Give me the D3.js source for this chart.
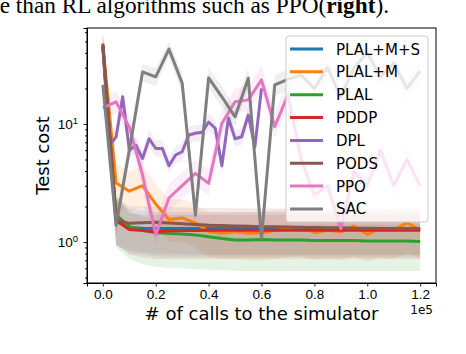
<!DOCTYPE html>
<html>
<head>
<meta charset="utf-8">
<script src="https://cdn.jsdelivr.net/npm/d3@7"></script>
<style>
  body { margin: 0; background: #fff; }
  svg { display: block; font-family: "DejaVu Sans", sans-serif; }
</style>
</head>
<body>
<div class="vis-chart"></div>
<script>
// x grids (number of simulator calls)
const xs5 = [0, 5000, 10000, 15000, 20000, 25000, 30000, 35000, 40000, 45000, 50000, 55000, 60000,
  65000, 70000, 75000, 80000, 85000, 90000, 95000, 100000, 105000, 110000, 115000, 120000];
const xs25 = [0, 2500, 5000, 7500, 10000, 12500, 15000, 17500, 20000, 22500, 25000, 27500, 30000,
  32500, 35000, 37500, 40000, 42500, 45000, 47500, 50000, 52500, 55000, 57500, 60000];

const names = ["PLAL+M+S", "PLAL+M", "PLAL", "PDDP", "DPL", "PODS", "PPO", "SAC"];
const colors = ["#1f77b4", "#ff7f0e", "#2ca02c", "#d62728", "#9467bd", "#8c564b", "#e377c2", "#7f7f7f"];

// mean test cost
const plalMS = [46, 1.5, 1.33, 1.31, 1.3, 1.3, 1.3, 1.3, 1.3, 1.3, 1.3, 1.3, 1.3, 1.3, 1.3, 1.3, 1.3, 1.3, 1.3, 1.3, 1.3, 1.3, 1.3, 1.3, 1.3];
const plalM = [47, 3.16, 2.7, 3.0, 2.1, 1.55, 1.6, 1.45, 1.22, 1.19, 1.22, 1.19, 1.2, 1.25, 1.31, 1.35, 1.2, 1.26, 1.22, 1.37, 1.16, 1.31, 1.26, 1.46, 1.26];
const plal = [45, 1.7, 1.35, 1.26, 1.2, 1.18, 1.17, 1.15, 1.11, 1.07, 1.04, 1.04, 1.05, 1.04, 1.04, 1.04, 1.03, 1.03, 1.03, 1.03, 1.02, 1.02, 1.02, 1.02, 1.01];
const pddp = [46, 1.52, 1.28, 1.25, 1.22, 1.24, 1.25, 1.25, 1.26, 1.26, 1.26, 1.26, 1.26, 1.26, 1.26, 1.26, 1.26, 1.26, 1.26, 1.26, 1.26, 1.26, 1.26, 1.26, 1.26];
const dpl = [45, 6.6, 7.77, 17.0, 6.0, 6.6, 5.1, 7.5, 6.2, 6.2, 4.43, 5.46, 5.82, 8.07, 8.34, 8.5, 10.4, 9.2, 4.43, 11.2, 7.5, 7.8, 11.9, 6.4, 20.0];
const pods = [48, 1.54, 1.44, 1.46, 1.47, 1.45, 1.43, 1.41, 1.39, 1.38, 1.37, 1.36, 1.35, 1.35, 1.34, 1.33, 1.33, 1.32, 1.32, 1.31, 1.31, 1.3, 1.3, 1.3, 1.3];
const ppo = [13.7, 15.4, 9.4, 3.7, 1.15, 2.36, 3.0, 3.82, 3.14, 10.1, 15.4, 16.0, 23.6, 9.5, 17.6, 5, 2.5, 3, 1.3, 4, 3, 6, 3, 5, 3];
const sac = [21.4, 1.39, 6.0, 27.6, 25.1, 43, 22.2, 1.69, 24.6, 17.0, 11.5, 24.4, 1.07, 21.4, 23.9, 26, 20, 30, 17, 30, 40, 25, 33, 20, 28];

// shaded spread (upper / lower)
const plalMSHi = [58, 2.3, 1.9, 1.85, 1.8, 1.8, 1.8, 1.8, 1.8, 1.8, 1.8, 1.8, 1.8, 1.8, 1.8, 1.8, 1.8, 1.8, 1.8, 1.8, 1.8, 1.8, 1.8, 1.8, 1.8];
const plalMSLo = [36, 0.95, 0.8, 0.78, 0.76, 0.75, 0.75, 0.75, 0.75, 0.75, 0.75, 0.75, 0.75, 0.75, 0.75, 0.75, 0.75, 0.75, 0.75, 0.75, 0.75, 0.75, 0.75, 0.75, 0.75];
const plalMHi = [58, 4.6, 4.0, 4.4, 3.1, 2.3, 2.3, 2.1, 1.8, 1.8, 1.8, 1.8, 1.8, 1.85, 1.9, 1.95, 1.8, 1.85, 1.8, 1.95, 1.75, 1.9, 1.85, 2.0, 1.85];
const plalMLo = [37, 2.1, 1.8, 2.0, 1.4, 1.0, 1.0, 0.9, 0.75, 0.72, 0.72, 0.7, 0.7, 0.72, 0.75, 0.76, 0.7, 0.72, 0.7, 0.76, 0.68, 0.74, 0.72, 0.8, 0.72];
const plalHi = [56, 2.5, 1.8, 1.65, 1.55, 1.5, 1.5, 1.48, 1.45, 1.42, 1.4, 1.4, 1.4, 1.4, 1.4, 1.4, 1.4, 1.4, 1.4, 1.4, 1.4, 1.4, 1.4, 1.4, 1.4];
const plalLo = [35, 0.9, 0.72, 0.65, 0.62, 0.6, 0.6, 0.59, 0.58, 0.58, 0.57, 0.57, 0.57, 0.57, 0.57, 0.57, 0.57, 0.57, 0.57, 0.57, 0.57, 0.57, 0.57, 0.57, 0.57];
const pddpHi = [57, 2.3, 1.75, 1.7, 1.7, 1.7, 1.7, 1.7, 1.7, 1.7, 1.7, 1.7, 1.7, 1.7, 1.7, 1.7, 1.7, 1.7, 1.7, 1.7, 1.7, 1.7, 1.7, 1.7, 1.7];
const pddpLo = [36, 0.95, 0.78, 0.74, 0.72, 0.72, 0.72, 0.72, 0.72, 0.72, 0.72, 0.72, 0.72, 0.72, 0.72, 0.72, 0.72, 0.72, 0.72, 0.72, 0.72, 0.72, 0.72, 0.72, 0.72];
const dplHi = [55, 7.8, 9.2, 20, 7.1, 7.8, 6.0, 8.9, 7.3, 7.3, 5.2, 6.4, 6.9, 9.5, 9.8, 10, 12.3, 10.9, 5.2, 13.2, 8.9, 9.2, 14, 7.6, 23.6];
const dplLo = [37, 5.6, 6.6, 14.4, 5.1, 5.6, 4.3, 6.4, 5.3, 5.3, 3.8, 4.6, 4.9, 6.9, 7.1, 7.2, 8.8, 7.8, 3.8, 9.5, 6.4, 6.6, 10.1, 5.4, 17];
const podsHi = [60, 2.4, 2.0, 2.0, 2.0, 1.98, 1.96, 1.95, 1.94, 1.94, 1.93, 1.93, 1.92, 1.92, 1.92, 1.92, 1.92, 1.92, 1.92, 1.92, 1.92, 1.92, 1.92, 1.92, 1.92];
const podsLo = [38, 0.95, 0.85, 0.82, 0.8, 0.8, 0.79, 0.79, 0.78, 0.78, 0.78, 0.78, 0.78, 0.78, 0.78, 0.78, 0.78, 0.78, 0.78, 0.78, 0.78, 0.78, 0.78, 0.78, 0.78];
const ppoHi = [17, 19, 12, 4.8, 1.5, 3.1, 3.9, 5, 4.1, 13, 20, 21, 31, 12.5, 23, 6.5, 3.3, 3.9, 1.7, 5.2, 3.9, 7.8, 3.9, 6.5, 3.9];
const ppoLo = [11, 12.3, 7.5, 2.9, 0.9, 1.85, 2.35, 3, 2.5, 8, 12.3, 12.8, 18.8, 7.6, 14, 4, 2, 2.4, 1.05, 3.2, 2.4, 4.8, 2.4, 4, 2.4];
const sacHi = [25, 1.7, 7.5, 32, 30, 50, 27, 2.1, 30, 21, 14, 30, 1.3, 26, 29, 31, 24, 36, 21, 36, 48, 30, 40, 24, 34];
const sacLo = [18, 1.1, 4.8, 23, 21, 37, 18, 1.35, 20, 14, 9.5, 20, 0.85, 17, 19.5, 21, 16, 24, 14, 24, 33, 20, 27, 16, 23];

const yMajor = [1, 10];
const yMinor = [0.5, 0.6, 0.7, 0.8, 0.9, 2, 3, 4, 5, 6, 7, 8, 9, 20, 30, 40, 50, 60];
const xTicks = [0, 20000, 40000, 60000, 80000, 100000, 120000];

const series = [
  {x: xs5, y: plalMS, hi: plalMSHi, lo: plalMSLo},
  {x: xs5, y: plalM, hi: plalMHi, lo: plalMLo},
  {x: xs5, y: plal, hi: plalHi, lo: plalLo},
  {x: xs5, y: pddp, hi: pddpHi, lo: pddpLo},
  {x: xs25, y: dpl, hi: dplHi, lo: dplLo},
  {x: xs5, y: pods, hi: podsHi, lo: podsLo},
  {x: xs5, y: ppo, hi: ppoHi, lo: ppoLo},
  {x: xs5, y: sac, hi: sacHi, lo: sacLo}
];

const W = 466, H = 354;
const margin = {top: 28, right: 30, bottom: 71, left: 87};

const svg = d3.select('.vis-chart').append('svg')
  .attr('width', W).attr('height', H);

// caption fragment above the figure (cut at the top, as in the page scan)
const cap = svg.append('text')
  .attr('x', 389).attr('y', 12.5)
  .attr('text-anchor', 'end')
  .style('font-family', '"Liberation Serif", serif')
  .style('font-size', '23.3px')
  .attr('fill', '#000');
cap.append('tspan').text('se than RL algorithms such as PPO(');
cap.append('tspan').style('font-weight', 'bold').text('right');
cap.append('tspan').text(').');

const x = d3.scaleLinear().domain([-6000, 126000]).range([margin.left, W - margin.right]);
const y = d3.scaleLog().domain([0.45, 65]).range([H - margin.bottom, margin.top]);

const plot = svg.append('g');
plot.append('clipPath').attr('id', 'clip')
  .append('rect')
  .attr('x', margin.left).attr('y', margin.top)
  .attr('width', W - margin.right - margin.left)
  .attr('height', H - margin.bottom - margin.top);
const inner = plot.append('g').attr('clip-path', 'url(#clip)');

// bands first, then lines
series.forEach((s, i) => {
  const area = d3.area()
    .x((d, j) => x(s.x[j]))
    .y0((d, j) => y(s.lo[j]))
    .y1((d, j) => y(s.hi[j]));
  inner.append('path')
    .attr('d', area(s.y))
    .attr('fill', colors[i])
    .attr('fill-opacity', 0.12);
});
series.forEach((s, i) => {
  const line = d3.line()
    .x((d, j) => x(s.x[j]))
    .y(d => y(d));
  inner.append('path')
    .attr('d', line(s.y))
    .attr('fill', 'none')
    .attr('stroke', colors[i])
    .attr('stroke-width', 3)
    .attr('stroke-linejoin', 'round');
});

// axes
const xAxis = svg.append('g')
  .attr('transform', 'translate(0,' + (H - margin.bottom) + ')')
  .call(d3.axisBottom(x).tickValues(xTicks).tickSize(3.5).tickPadding(3)
    .tickFormat(d => (d / 1e5).toFixed(1)));
xAxis.selectAll('text').style('font-size', '13.5px').attr('fill', '#000');

const yMin = svg.append('g')
  .attr('transform', 'translate(' + margin.left + ',0)')
  .call(d3.axisLeft(y).tickValues(yMinor).tickSize(2).tickFormat(''));
yMin.select('.domain').remove();

const yAxis = svg.append('g')
  .attr('transform', 'translate(' + margin.left + ',0)')
  .call(d3.axisLeft(y).tickValues(yMajor).tickSize(3.5).tickFormat(''));
yAxis.selectAll('.tick').each(function(d) {
  const t = d3.select(this).append('text')
    .attr('x', -9).attr('dy', '0.32em')
    .attr('text-anchor', 'end')
    .attr('fill', '#000')
    .style('font-size', '13.5px');
  t.append('tspan').text('10');
  t.append('tspan').attr('dy', '-0.55em').style('font-size', '9.5px').text(Math.round(Math.log10(d)));
});

svg.selectAll('.domain').attr('stroke', '#000').attr('stroke-width', 1);
svg.selectAll('.tick line').attr('stroke', '#000').attr('stroke-width', 0.9);

// box top and right
svg.append('rect')
  .attr('x', margin.left).attr('y', margin.top)
  .attr('width', W - margin.right - margin.left)
  .attr('height', H - margin.bottom - margin.top)
  .attr('fill', 'none').attr('stroke', '#000').attr('stroke-width', 1);

// labels
svg.append('text')
  .attr('x', (margin.left + W - margin.right) / 2).attr('y', 320)
  .attr('text-anchor', 'middle').style('font-size', '18px')
  .text('# of calls to the simulator');
svg.append('text')
  .attr('x', 433).attr('y', 314)
  .attr('text-anchor', 'end').style('font-size', '12px')
  .text('1e5');
svg.append('text')
  .attr('transform', 'translate(49,' + ((margin.top + H - margin.bottom) / 2) + ') rotate(-90)')
  .attr('text-anchor', 'middle').style('font-size', '18px')
  .text('Test cost');

// legend
const lg = svg.append('g');
lg.append('rect')
  .attr('x', 286).attr('y', 36).attr('width', 142).attr('height', 186).attr('rx', 3)
  .attr('fill', '#fff').attr('fill-opacity', 0.8)
  .attr('stroke', '#cccccc').attr('stroke-width', 1);
names.forEach((n, i) => {
  const yy = 49 + i * 22.85;
  lg.append('line')
    .attr('x1', 290).attr('x2', 323).attr('y1', yy).attr('y2', yy)
    .attr('stroke', colors[i]).attr('stroke-width', 3);
  lg.append('text')
    .attr('x', 336).attr('y', yy + 5.5)
    .style('font-size', '15px')
    .text(n);
});
</script>
</body>
</html>
